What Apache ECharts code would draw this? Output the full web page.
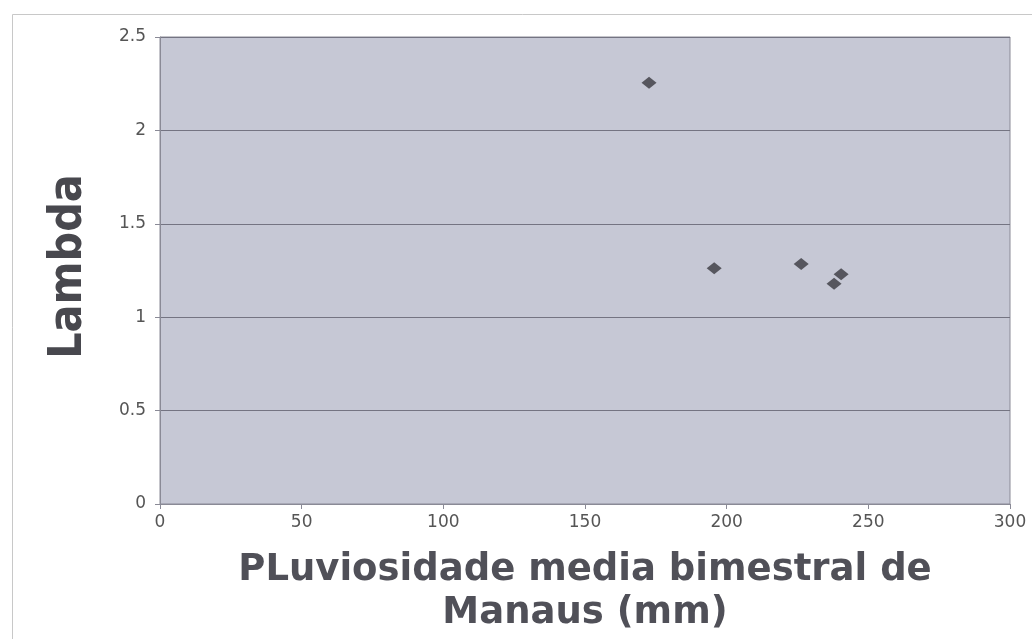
<!DOCTYPE html>
<html>
<head>
<meta charset="utf-8">
<script src="https://cdn.jsdelivr.net/npm/echarts@6/dist/echarts.min.js"></script>
<style>
html,body{margin:0;padding:0;background:#fff;}
#chart{width:1032px;height:639px;}
</style>
</head>
<body>
<div id="chart"></div>
<script>
const rainfall = [172.6, 195.6, 226.3, 237.9, 240.4];
const lambda = [2.255, 1.262, 1.285, 1.179, 1.230];
const xTitle = 'PLuviosidade media bimestral de\nManaus (mm)';
const yTitle = 'Lambda';

const chart = echarts.init(document.getElementById('chart'));
chart.setOption({
  backgroundColor: '#ffffff',
  animation: false,
  graphic: [{
    type: 'rect', left: 10, top: 12, silent: true,
    shape: {width: 1030, height: 640},
    style: {fill: 'none', stroke: '#c8c8c8', lineWidth: 1}
  }],
  grid: {left: 160, right: 22, top: 37, bottom: 135, show: true, outerBoundsMode: 'none',
         backgroundColor: '#c6c8d5', borderColor: '#8a8a96', borderWidth: 1},
  xAxis: {
    type: 'value', min: 0, max: 300, interval: 50,
    name: xTitle, nameLocation: 'middle', nameGap: 45,
    nameTextStyle: {fontFamily: 'DejaVu Sans', fontWeight: 'bold', fontSize: 37, color: '#505058', lineHeight: 43},
    axisLine: {show: true, lineStyle: {color: '#8a8a96'}},
    axisTick: {show: true, length: 5, lineStyle: {color: '#8a8a96'}},
    axisLabel: {fontFamily: 'DejaVu Sans', fontSize: 17, color: '#555', margin: 10},
    splitLine: {show: false}
  },
  yAxis: {
    type: 'value', min: 0, max: 2.5, interval: 0.5,
    name: yTitle, nameLocation: 'middle', nameGap: 68, nameRotate: 90,
    nameTextStyle: {fontFamily: 'DejaVu Sans Condensed', fontWeight: 'bold', fontSize: 46, color: '#48484e', padding: [0, 0, 0, 8]},
    axisLine: {show: true, lineStyle: {color: '#8a8a96'}},
    axisTick: {show: true, length: 5, lineStyle: {color: '#8a8a96'}},
    axisLabel: {fontFamily: 'DejaVu Sans', fontSize: 17, color: '#555', margin: 14},
    splitLine: {show: true, lineStyle: {color: '#747482', width: 1}}
  },
  series: [{
    type: 'scatter',
    data: rainfall.map((x, i) => [x, lambda[i]]),
    symbol: 'diamond', symbolSize: [15, 12],
    itemStyle: {color: '#3a3a40'}
  }]
});
</script>
</body>
</html>
